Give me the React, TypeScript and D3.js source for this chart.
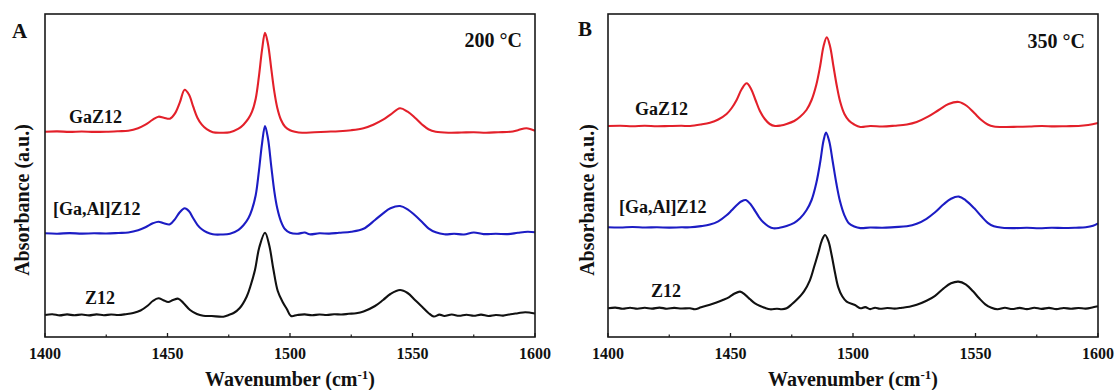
import React from "react";
import * as d3 from "d3";

// ---------- data (wavenumber cm-1, relative absorbance a.u.) ----------
const xTicks = [1400, 1450, 1500, 1550, 1600];
const xMinorTicks = [1425, 1475, 1525, 1575];

// Panel A (200 °C)
const A_GaZ12: [number, number][] = [
  [1400, 0.0], [1405, 0.003], [1410, -0.002], [1415, 0.002], [1420, -0.002], [1425, 0.0],
  [1430, 0.005], [1434, 0.01], [1438, 0.035], [1441, 0.07], [1444, 0.12], [1446.3, 0.15],
  [1448.5, 0.14], [1451, 0.13], [1453, 0.18], [1455, 0.29], [1457, 0.42], [1458.8, 0.37],
  [1460.5, 0.25], [1462.2, 0.14], [1464, 0.07], [1466, 0.025], [1468.5, -0.005], [1472, -0.01],
  [1475.5, -0.005], [1479, 0.03], [1481, 0.07], [1483, 0.13], [1484.5, 0.2], [1486, 0.33],
  [1487.3, 0.55], [1488.6, 0.82], [1489.8, 0.99], [1491, 0.88], [1492.4, 0.62], [1493.6, 0.4],
  [1494.8, 0.24], [1496.3, 0.12], [1498, 0.05], [1500, 0.015], [1502, 0.0], [1505, -0.01],
  [1510, -0.005], [1515, 0.0], [1520, 0.005], [1525, 0.015], [1530, 0.035], [1534, 0.07],
  [1538, 0.12], [1541, 0.17], [1544.9, 0.235], [1548, 0.2], [1551, 0.14], [1554, 0.07],
  [1556.5, 0.025], [1559.5, 0.0], [1565, -0.01], [1570, -0.008], [1575, -0.005], [1580, -0.01],
  [1585, -0.005], [1590, 0.0], [1593, 0.015], [1596.5, 0.035], [1600, 0.01],
];
const A_GaAlZ12: [number, number][] = [
  [1400, 0.0], [1405, -0.004], [1410, 0.002], [1415, -0.003], [1420, 0.0], [1425, -0.002],
  [1430, 0.003], [1434, 0.008], [1438, 0.03], [1441, 0.06], [1444, 0.1], [1446.3, 0.116],
  [1448.5, 0.1], [1451, 0.09], [1453, 0.14], [1455, 0.21], [1457, 0.25], [1458.8, 0.22],
  [1460.5, 0.15], [1462.2, 0.085], [1464, 0.04], [1466, 0.01], [1468.5, -0.01], [1472, -0.012],
  [1475.5, -0.005], [1479, 0.035], [1481, 0.08], [1483, 0.15], [1484.5, 0.24], [1486, 0.38],
  [1487.3, 0.62], [1488.6, 0.9], [1489.8, 1.073], [1491, 0.95], [1492.4, 0.66], [1493.6, 0.42],
  [1494.8, 0.25], [1496.3, 0.12], [1498, 0.04], [1500, 0.005], [1503, -0.005], [1506, 0.008],
  [1508, -0.01], [1512, 0.0], [1516, -0.003], [1520, 0.005], [1525, 0.015], [1530, 0.045],
  [1534.7, 0.133], [1538, 0.2], [1541, 0.25], [1544.9, 0.273], [1548, 0.24], [1551, 0.18],
  [1554, 0.11], [1556.5, 0.05], [1559.5, 0.01], [1563, -0.01], [1567, -0.005], [1571, -0.012],
  [1575, 0.008], [1579, -0.008], [1584, -0.005], [1589, -0.008], [1593, 0.005], [1597, 0.015],
  [1600, 0.01],
];
const A_Z12: [number, number][] = [
  [1400, 0.0], [1403, 0.008], [1406, -0.004], [1409, 0.006], [1412, -0.003], [1415, 0.005],
  [1418, -0.004], [1421, 0.006], [1424, -0.002], [1427, 0.005], [1430, 0.0], [1433, 0.008],
  [1436, 0.02], [1439, 0.045], [1442, 0.095], [1444, 0.14], [1446.3, 0.167], [1448.3, 0.148],
  [1450.3, 0.13], [1452.3, 0.15], [1454.4, 0.163], [1456.5, 0.12], [1459.2, 0.05], [1462, 0.01],
  [1464.6, -0.007], [1468, -0.01], [1472.8, -0.017], [1475, 0.0], [1477, 0.02], [1479.5, 0.07],
  [1482.3, 0.183], [1484, 0.3], [1485.7, 0.45], [1487.5, 0.68], [1489.8, 0.823], [1491.5, 0.7],
  [1493.2, 0.46], [1495, 0.24], [1497, 0.13], [1498.7, 0.06], [1500.4, -0.01], [1503, 0.0],
  [1506, 0.006], [1509, -0.003], [1512, 0.005], [1515, 0.0], [1518, 0.007], [1521, 0.005],
  [1524, 0.012], [1527, 0.018], [1530, 0.035], [1534.7, 0.09], [1538, 0.15], [1541, 0.21],
  [1544.9, 0.25], [1548, 0.22], [1551, 0.15], [1554, 0.08], [1556.5, 0.02], [1558.7, -0.015],
  [1561, 0.004], [1563, -0.01], [1566, 0.005], [1569, -0.008], [1572, 0.003], [1575, -0.007],
  [1578, 0.004], [1581, -0.01], [1584, 0.0], [1587, -0.006], [1590, 0.008], [1593, 0.018],
  [1596, 0.028], [1600, 0.015],
];

// Panel B (350 °C)
const B_GaZ12: [number, number][] = [
  [1400, 0.0], [1405, 0.003], [1410, -0.002], [1415, 0.002], [1420, -0.003], [1425, 0.0],
  [1430, 0.002], [1433.5, 0.0], [1438, 0.015], [1441.6, 0.033], [1445, 0.065], [1448.4, 0.12],
  [1450.5, 0.18], [1452.5, 0.26], [1454.6, 0.37], [1456.6, 0.427], [1458.4, 0.37], [1460.2, 0.26],
  [1462, 0.15], [1464, 0.07], [1466, 0.02], [1468.2, 0.0], [1470.5, 0.005], [1472.9, 0.02],
  [1476, 0.05], [1478.4, 0.093], [1481, 0.16], [1483.1, 0.26], [1485, 0.41], [1486.6, 0.6],
  [1488, 0.8], [1489.3, 0.887], [1490.6, 0.8], [1492, 0.6], [1493.4, 0.4], [1494.8, 0.24],
  [1496.5, 0.12], [1498.3, 0.055], [1500.5, 0.015], [1503, -0.01], [1507, 0.0], [1512, -0.005],
  [1517, 0.003], [1522, 0.015], [1526, 0.04], [1530.6, 0.093], [1535, 0.16], [1539, 0.22],
  [1543.2, 0.24], [1546.5, 0.2], [1549.5, 0.13], [1552.4, 0.06], [1555, 0.015], [1557.5, -0.005],
  [1562, -0.01], [1567, -0.008], [1572, -0.005], [1577, 0.0], [1582, -0.004], [1587, -0.002],
  [1592, 0.0], [1596, 0.01], [1600, 0.03],
];
const B_GaAlZ12: [number, number][] = [
  [1400, 0.0], [1405, -0.002], [1410, 0.003], [1415, -0.002], [1420, 0.0], [1425, -0.003],
  [1430, 0.0], [1433.5, 0.0], [1438, 0.012], [1441.6, 0.028], [1445, 0.06], [1448.4, 0.12],
  [1450.5, 0.17], [1452.5, 0.22], [1454.5, 0.26], [1456.3, 0.273], [1458.2, 0.23], [1460, 0.165],
  [1461.7, 0.1], [1463.4, 0.05], [1465.5, 0.01], [1467.5, -0.01], [1470, -0.005], [1472.9, 0.013],
  [1476, 0.045], [1478.4, 0.09], [1481, 0.17], [1483.1, 0.273], [1485, 0.44], [1486.6, 0.65],
  [1488, 0.87], [1489, 0.947], [1490.3, 0.86], [1491.7, 0.66], [1493.2, 0.44], [1494.7, 0.26],
  [1496.5, 0.12], [1498.3, 0.04], [1500.5, 0.008], [1503, -0.008], [1507, -0.002], [1512, -0.005],
  [1517, 0.002], [1522, 0.01], [1526, 0.035], [1530, 0.085], [1533.5, 0.15], [1537, 0.23],
  [1540, 0.285], [1543.2, 0.307], [1546, 0.27], [1549.5, 0.19], [1552.4, 0.11], [1555, 0.045],
  [1557.5, 0.01], [1561, -0.005], [1566, -0.008], [1571, -0.005], [1576, -0.01], [1581, -0.005],
  [1586, -0.007], [1591, -0.004], [1595, 0.0], [1598, 0.015], [1600, 0.04],
];
const B_Z12: [number, number][] = [
  [1400, 0.0], [1403, 0.007], [1406, -0.004], [1409, 0.006], [1412, -0.004], [1415, 0.005],
  [1418, -0.003], [1421, 0.007], [1424, -0.004], [1427, 0.004], [1430, -0.002], [1433.5, 0.0],
  [1435.5, -0.01], [1438, 0.01], [1441.6, 0.035], [1444, 0.055], [1447.1, 0.085], [1449.3, 0.11],
  [1451.5, 0.145], [1453.9, 0.167], [1456, 0.135], [1458, 0.09], [1460, 0.05], [1462.1, 0.023],
  [1464, 0.005], [1466.2, -0.01], [1469, -0.005], [1471, -0.01], [1472.9, 0.0], [1475, 0.04],
  [1477, 0.085], [1480, 0.17], [1482.4, 0.28], [1484.2, 0.42], [1485.9, 0.56], [1487.3, 0.68],
  [1488.6, 0.733], [1490, 0.67], [1491.3, 0.53], [1492.7, 0.35], [1494, 0.21], [1495.6, 0.12],
  [1497.4, 0.067], [1500.8, 0.033], [1503, 0.0], [1505, 0.012], [1507, -0.008], [1509, 0.006],
  [1511, -0.005], [1514, 0.003], [1517, -0.003], [1520, 0.006], [1523, 0.016], [1526, 0.035],
  [1530, 0.075], [1533.5, 0.125], [1537, 0.2], [1540, 0.25], [1543, 0.267], [1546, 0.24],
  [1549, 0.17], [1551.5, 0.1], [1554, 0.04], [1556.5, 0.005], [1559, -0.01], [1562, 0.005],
  [1565, -0.007], [1568, 0.004], [1571, -0.008], [1574, 0.005], [1577, -0.006], [1580, 0.004],
  [1583, -0.008], [1586, 0.003], [1589, -0.005], [1592, 0.003], [1595, -0.003], [1598, 0.01],
  [1600, 0.02],
];

const seriesNames = ["GaZ12", "[Ga,Al]Z12", "Z12"];
const seriesColors = ["#e3202a", "#1c1cc4", "#111111"];
const offsetsA = [2.053, 1.037, 0.22];
const offsetsB = [2.11, 1.097, 0.287];
const yDomain = [0, 3.23];

// ---------- drawing ----------
const FONT = "'Liberation Serif', 'Times New Roman', serif";
const TOP = 14;
const BOTTOM = 337;

type PanelProps = {
  left: number;
  right: number;
  data: [number, number][][];
  offsets: number[];
  letter: string;
  letterPos: [number, number];
  temp: string;
  tempPos: [number, number];
  labelPos: [number, number][];
  yTitleX: number;
};

function Panel(p: PanelProps) {
  const x = d3.scaleLinear().domain([1400, 1600]).range([p.left, p.right]);
  const y = d3.scaleLinear().domain(yDomain).range([BOTTOM, TOP]);
  const midX = (p.left + p.right) / 2;
  return (
    <g style={{ fontFamily: FONT, fontWeight: 700 }} fill="#111">
      {p.data.map((s, i) => {
        const line = d3
          .line<[number, number]>()
          .x((d) => x(d[0]))
          .y((d) => y(d[1] + p.offsets[i]))
          .curve(d3.curveCatmullRom.alpha(0.5));
        return (
          <path
            key={i}
            d={line(s) || ""}
            fill="none"
            stroke={seriesColors[i]}
            strokeWidth={2.1}
            strokeLinejoin="round"
          />
        );
      })}
      <rect
        x={p.left}
        y={TOP}
        width={p.right - p.left}
        height={BOTTOM - TOP}
        fill="none"
        stroke="#1a1a1a"
        strokeWidth={1.6}
      />
      {xTicks.map((t) => (
        <g key={t}>
          <line x1={x(t)} x2={x(t)} y1={BOTTOM} y2={BOTTOM - 4} stroke="#1a1a1a" strokeWidth={1.3} />
          <text x={x(t)} y={359} textAnchor="middle" fontSize={16}>
            {t}
          </text>
        </g>
      ))}
      {xMinorTicks.map((t) => (
        <line key={t} x1={x(t)} x2={x(t)} y1={BOTTOM} y2={BOTTOM - 2.5} stroke="#1a1a1a" strokeWidth={1.2} />
      ))}
      <text x={midX} y={386} textAnchor="middle" fontSize={20}>
        Wavenumber (cm
        <tspan fontSize={13} dy={-7}>-1</tspan>
        <tspan dy={7}>)</tspan>
      </text>
      <text
        transform={`translate(${p.yTitleX},200) rotate(-90)`}
        textAnchor="middle"
        dominantBaseline="central"
        fontSize={20}
      >
        Absorbance (a.u.)
      </text>
      <text x={p.letterPos[0]} y={p.letterPos[1]} fontSize={21}>
        {p.letter}
      </text>
      <text x={p.tempPos[0]} y={p.tempPos[1]} textAnchor="end" fontSize={20}>
        {p.temp}
      </text>
      {seriesNames.map((n, i) => (
        <text key={n} x={p.labelPos[i][0]} y={p.labelPos[i][1]} fontSize={18}>
          {n}
        </text>
      ))}
    </g>
  );
}

export default function App() {
  return (
    <svg
      width={1119}
      height={390}
      viewBox="0 0 1119 390"
      style={{ position: "absolute", left: 0, top: 0, background: "#fff" }}
    >
      <rect width={1119} height={390} fill="#fff" />
      <Panel
        left={45}
        right={535}
        data={[A_GaZ12, A_GaAlZ12, A_Z12]}
        offsets={offsetsA}
        letter="A"
        letterPos={[12, 38]}
        temp="200 °C"
        tempPos={[522, 47]}
        labelPos={[[69, 123], [53, 215], [85, 304]]}
        yTitleX={22}
      />
      <Panel
        left={608}
        right={1098}
        data={[B_GaZ12, B_GaAlZ12, B_Z12]}
        offsets={offsetsB}
        letter="B"
        letterPos={[578, 36]}
        temp="350 °C"
        tempPos={[1085, 48]}
        labelPos={[[635, 115], [619, 213], [651, 297]]}
        yTitleX={587}
      />
    </svg>
  );
}
